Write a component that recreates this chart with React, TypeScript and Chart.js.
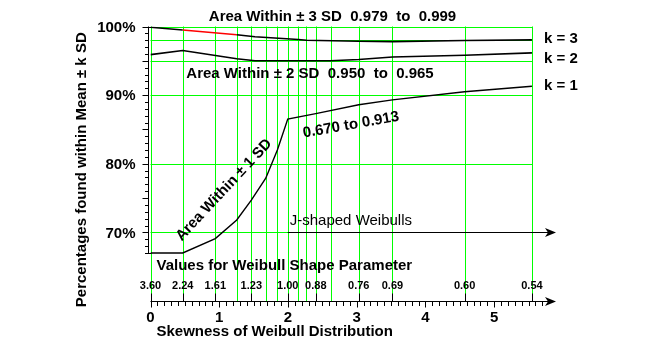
import React, { useEffect, useRef } from 'react';
import { Chart, registerables } from 'chart.js';

Chart.register(...registerables);

// ---- data ----
const k3Skew = [0, 0.469, 1.255, 1.52, 2.15, 2.27, 3.03, 3.52, 4.57, 5.55];
const k3Pct = [99.9, 99.5, 98.8, 98.5, 98.1, 98.0, 97.85, 97.8, 97.95, 98.05];
const k2Skew = [0, 0.469, 1.255, 1.52, 2.62, 3.03, 3.52, 4.57, 5.55];
const k2Pct = [95.9, 96.5, 95.3, 95.0, 95.0, 95.2, 95.55, 95.8, 96.15];
const k1Skew = [0, 0.469, 0.943, 1.255, 1.467, 1.677, 1.846, 1.997, 2.405, 3.03, 3.52, 4.57, 5.55];
const k1Pct = [67.0, 67.0, 69.1, 71.8, 74.7, 77.9, 82.0, 86.5, 87.3, 88.6, 89.3, 90.5, 91.3];

const gridSkew = [0, 0.469, 0.943, 1.255, 1.467, 1.677, 1.846, 1.997, 2.143, 2.268, 2.405, 2.623, 3.03, 3.52, 4.57, 5.55];
const gridPct = [100, 98, 95, 90, 80, 70];
const shapeLabels = ['3.60', '2.24', '1.61', '1.23', '1.00', '0.88', '0.76', '0.69', '0.60', '0.54'];
const shapeSkew = [0, 0.469, 0.943, 1.467, 1.997, 2.405, 3.03, 3.52, 4.57, 5.55];
const yTickPct = [70, 80, 90, 100];
const xTickVals = [0, 1, 2, 3, 4, 5];
const kLabels = ['k = 3', 'k = 2', 'k = 1'];

const X_MIN = 0;
const X_MAX = 5.9;
const Y_MIN = 60;
const Y_MAX = 100;
const Y_AXIS_LOW = 67;
const J_START = 1.997;
const J_LEVEL = 70;

const FONT = '"Liberation Sans", Arial, Helvetica, sans-serif';
const GREEN = '#00ff00';

const toPts = (xs: number[], ys: number[]) => xs.map((x, i) => ({ x, y: ys[i] }));

const decor = {
  id: 'decor',
  beforeDatasetsDraw(chart: any) {
    const ctx = chart.ctx;
    const xs = chart.scales.x;
    const ys = chart.scales.y;
    const px = (v: number) => xs.getPixelForValue(v);
    const py = (v: number) => ys.getPixelForValue(v);
    ctx.save();
    ctx.strokeStyle = GREEN;
    ctx.lineWidth = 1;
    gridSkew.forEach((s) => {
      const x = Math.round(px(s)) + 0.5;
      ctx.beginPath();
      ctx.moveTo(x, py(Y_MAX));
      ctx.lineTo(x, py(Y_MIN));
      ctx.stroke();
    });
    gridPct.forEach((p) => {
      const y = Math.round(py(p)) + 0.5;
      ctx.beginPath();
      ctx.moveTo(px(0), y);
      ctx.lineTo(px(gridSkew[gridSkew.length - 1]) + 0.5, y);
      ctx.stroke();
    });
    ctx.restore();
  },
  afterDatasetsDraw(chart: any) {
    const ctx = chart.ctx;
    const xs = chart.scales.x;
    const ys = chart.scales.y;
    const px = (v: number) => xs.getPixelForValue(v);
    const py = (v: number) => ys.getPixelForValue(v);
    ctx.save();
    ctx.strokeStyle = '#000';
    ctx.fillStyle = '#000';
    ctx.lineWidth = 1;

    // ---- y axis ----
    const yAxisX = Math.round(px(0)) - 2.5;
    ctx.beginPath();
    ctx.moveTo(yAxisX, py(Y_MAX));
    ctx.lineTo(yAxisX, py(Y_AXIS_LOW) + 0.5);
    ctx.stroke();
    for (let p = Y_AXIS_LOW; p <= Y_MAX; p++) {
      const y = Math.round(py(p)) + 0.5;
      const len = p % 5 === 0 ? 6 : 3.5;
      ctx.beginPath();
      ctx.moveTo(yAxisX - len, y);
      ctx.lineTo(p === Y_MAX || p === Y_AXIS_LOW ? px(0) + 1 : yAxisX, y);
      ctx.stroke();
    }
    ctx.font = `bold 15px ${FONT}`;
    ctx.textAlign = 'right';
    ctx.textBaseline = 'middle';
    yTickPct.forEach((p) => ctx.fillText(`${p}%`, yAxisX - 13, py(p) + 1));

    // y title
    ctx.save();
    ctx.translate(74, (py(Y_MAX) + py(Y_MIN)) / 2 + 6);
    ctx.rotate(-Math.PI / 2);
    ctx.textAlign = 'center';
    ctx.fillText('Percentages found within Mean \u00b1 k SD', 0, 0);
    ctx.restore();

    // ---- x axis (skewness) ----
    const axY = Math.round(py(Y_MIN)) + 0.5;
    const xEnd = px(X_MAX);
    ctx.beginPath();
    ctx.moveTo(px(0), axY);
    ctx.lineTo(xEnd - 4, axY);
    ctx.stroke();
    // arrowhead
    ctx.beginPath();
    ctx.moveTo(xEnd, axY);
    ctx.lineTo(xEnd - 11, axY - 4.5);
    ctx.lineTo(xEnd - 8, axY);
    ctx.lineTo(xEnd - 11, axY + 4.5);
    ctx.closePath();
    ctx.fill();
    for (let i = 0; i <= 57; i++) {
      const v = i / 10;
      const x = Math.round(px(v)) + 0.5;
      const len = i % 10 === 0 ? 6 : 4.5;
      ctx.beginPath();
      ctx.moveTo(x, axY);
      ctx.lineTo(x, axY + len);
      ctx.stroke();
    }
    // weibull shape ticks
    shapeSkew.forEach((s) => {
      const x = Math.round(px(s)) + 0.5;
      ctx.beginPath();
      ctx.moveTo(x, axY - 8);
      ctx.lineTo(x, axY);
      ctx.stroke();
    });
    ctx.textAlign = 'center';
    ctx.textBaseline = 'middle';
    ctx.font = `bold 15px ${FONT}`;
    xTickVals.forEach((v) => ctx.fillText(String(v), px(v), axY + 16));
    ctx.textAlign = 'left';
    ctx.fillText('Skewness of Weibull Distribution', px(0) + 6, axY + 30);

    // weibull shape labels
    ctx.font = `bold 11px ${FONT}`;
    ctx.textAlign = 'center';
    shapeLabels.forEach((t, i) => ctx.fillText(t, px(shapeSkew[i]), axY - 16));
    ctx.font = `bold 15px ${FONT}`;
    ctx.textAlign = 'left';
    ctx.fillText('Values for Weibull Shape Parameter', px(0) + 6, axY - 36);

    // ---- J-shaped arrow ----
    const jy = Math.round(py(J_LEVEL)) + 0.5;
    ctx.beginPath();
    ctx.moveTo(px(J_START), jy);
    ctx.lineTo(xEnd - 4, jy);
    ctx.stroke();
    ctx.beginPath();
    ctx.moveTo(xEnd, jy);
    ctx.lineTo(xEnd - 11, jy - 4.5);
    ctx.lineTo(xEnd - 8, jy);
    ctx.lineTo(xEnd - 11, jy + 4.5);
    ctx.closePath();
    ctx.fill();
    ctx.font = `15px ${FONT}`;
    ctx.textAlign = 'left';
    ctx.fillText('J-shaped Weibulls', px(J_START) + 2, jy - 12);

    // ---- annotations ----
    ctx.font = `bold 15px ${FONT}`;
    ctx.textAlign = 'center';
    ctx.fillText('Area Within \u00b1 3 SD  0.979  to  0.999', 324.5, 9);
    ctx.fillText('Area Within \u00b1 2 SD  0.950  to  0.965', 302, 65.5);

    ctx.textAlign = 'left';
    const kY = [31, 51.3, 78];
    kLabels.forEach((t, i) => ctx.fillText(t, 536, kY[i]));

    ctx.save();
    ctx.translate(216, 182);
    ctx.rotate((-47 * Math.PI) / 180);
    ctx.textAlign = 'center';
    ctx.fillText('Area Within \u00b1 1 SD', 0, 0);
    ctx.restore();

    ctx.save();
    ctx.translate(343, 117);
    ctx.rotate((-10 * Math.PI) / 180);
    ctx.textAlign = 'center';
    ctx.fillText('0.670 to 0.913', 0, 0);
    ctx.restore();

    ctx.restore();
  },
};

export default function App() {
  const ref = useRef<HTMLCanvasElement | null>(null);
  useEffect(() => {
    if (!ref.current) return;
    const chart = new Chart(ref.current, {
      type: 'line',
      data: {
        datasets: [
          {
            data: toPts(k3Skew, k3Pct),
            borderColor: '#000',
            borderWidth: 1.6,
            pointRadius: 0,
            tension: 0,
            segment: {
              borderColor: (c: any) => (c.p0DataIndex === 1 ? '#ff0000' : '#000'),
            },
          },
          { data: toPts(k2Skew, k2Pct), borderColor: '#000', borderWidth: 1.6, pointRadius: 0, tension: 0 },
          { data: toPts(k1Skew, k1Pct), borderColor: '#000', borderWidth: 1.4, pointRadius: 0, tension: 0 },
        ],
      },
      options: {
        animation: false,
        responsive: true,
        maintainAspectRatio: false,
        layout: { padding: { left: 142.5, right: 95, top: 18.5, bottom: 45 } },
        scales: {
          x: { type: 'linear', min: X_MIN, max: X_MAX, display: false },
          y: { type: 'linear', min: Y_MIN, max: Y_MAX, display: false },
        },
        plugins: { legend: { display: false }, tooltip: { enabled: false } },
        events: [],
      },
      plugins: [decor],
    } as any);
    return () => chart.destroy();
  }, []);
  return (
    <div style={{ position: 'relative', width: 643, height: 338 }}>
      <canvas ref={ref} />
    </div>
  );
}
